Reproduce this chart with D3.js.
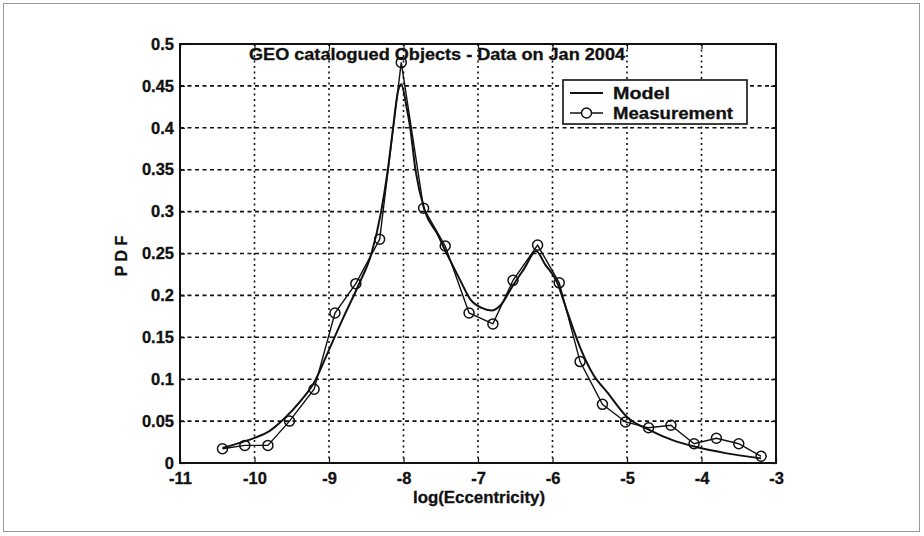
<!DOCTYPE html>
<html>
<head>
<meta charset="utf-8">
<script src="https://cdn.jsdelivr.net/npm/d3@7"></script>
<style>
  html, body { margin: 0; padding: 0; background: #fff; }
  svg { display: block; }
  text { font-family: "Liberation Sans", Arial, Helvetica, sans-serif; font-weight: bold; fill: #111; }
</style>
</head>
<body>
<svg id="chart" width="924" height="536"></svg>
<script>
// ---- Data ----
const titleText = "GEO catalogued Objects - Data on Jan 2004";
const xLabel = "log(Eccentricity)";
const yLabel = "P D F";
const seriesNames = ["Model", "Measurement"];

const xTicks = [-11, -10, -9, -8, -7, -6, -5, -4, -3];
const yTicks = [0, 0.05, 0.1, 0.15, 0.2, 0.25, 0.3, 0.35, 0.4, 0.45, 0.5];

// Measurement (circles)
const measX = [-10.43, -10.13, -9.82, -9.53, -9.20, -8.92, -8.64, -8.32, -8.03, -7.73,
               -7.44, -7.12, -6.80, -6.53, -6.20, -5.91, -5.63, -5.33, -5.02, -4.71,
               -4.41, -4.10, -3.80, -3.50, -3.20];
const measY = [0.017, 0.021, 0.021, 0.050, 0.088, 0.179, 0.214, 0.267, 0.478, 0.304,
               0.259, 0.179, 0.166, 0.218, 0.260, 0.215, 0.121, 0.070, 0.049, 0.042,
               0.045, 0.023, 0.0295, 0.023, 0.008];

// Model (smooth line)
const modelX = [-10.43, -10.2, -10.0, -9.8, -9.6, -9.4, -9.2, -9.0, -8.8, -8.6,
                -8.43, -8.3, -8.21, -8.14, -8.07, -8.03, -7.96, -7.91, -7.84, -7.71,
                -7.55, -7.42, -7.25, -7.1, -6.95, -6.82, -6.7, -6.53, -6.38, -6.22,
                -6.1, -5.94, -5.8, -5.63, -5.45, -5.27, -5.0, -4.69, -4.38, -4.07,
                -3.66, -3.2];
const modelY = [0.018, 0.024, 0.030, 0.038, 0.053, 0.072, 0.096, 0.135, 0.175, 0.213,
                0.250, 0.300, 0.350, 0.400, 0.445, 0.452, 0.425, 0.400, 0.350, 0.300,
                0.274, 0.250, 0.220, 0.195, 0.185, 0.182, 0.188, 0.212, 0.232, 0.253,
                0.237, 0.216, 0.180, 0.138, 0.105, 0.085, 0.055, 0.039, 0.027, 0.019,
                0.0115, 0.0055];

// ---- Drawing ----
const svg = d3.select("#chart");
const W = 924, H = 536;
const m = { left: 180, right: 924 - 776, top: 44, bottom: 536 - 463 };
const iw = W - m.left - m.right, ih = H - m.top - m.bottom;

// outer image frame
svg.append("rect").attr("x", 3.5).attr("y", 3.5).attr("width", 916).attr("height", 528)
  .attr("fill", "#fff").attr("stroke", "#9a9a9a").attr("stroke-width", 1);

const x = d3.scaleLinear().domain([-11, -3]).range([0, iw]);
const y = d3.scaleLinear().domain([0, 0.5]).range([ih, 0]);

const g = svg.append("g").attr("transform", `translate(${m.left},${m.top})`);

// grid
g.append("g").selectAll("line").data(xTicks.slice(1, -1)).join("line")
  .attr("x1", d => x(d)).attr("x2", d => x(d)).attr("y1", 0).attr("y2", ih)
  .attr("stroke", "#111").attr("stroke-width", 1.6).attr("stroke-dasharray", "2,3.5");
g.append("g").selectAll("line").data(yTicks.slice(1, -1)).join("line")
  .attr("y1", d => y(d)).attr("y2", d => y(d)).attr("x1", 0).attr("x2", iw)
  .attr("stroke", "#111").attr("stroke-width", 1.6).attr("stroke-dasharray", "4,3.5");

// axes
const fmtY = d => d === 0 ? "0" : String(+d.toFixed(2));
const xAxis = g.append("g").attr("transform", `translate(0,${ih})`)
  .call(d3.axisBottom(x).tickValues(xTicks).tickSize(-5).tickPadding(9).tickFormat(d => String(d)));
const yAxis = g.append("g")
  .call(d3.axisLeft(y).tickValues(yTicks).tickSize(-5).tickPadding(6).tickFormat(fmtY));
g.append("g").call(d3.axisTop(x).tickValues(xTicks).tickSize(-5).tickFormat(""));
g.append("g").attr("transform", `translate(${iw},0)`)
  .call(d3.axisRight(y).tickValues(yTicks).tickSize(-5).tickFormat(""));
g.selectAll(".domain").remove();
g.selectAll(".tick line").attr("stroke", "#111").attr("stroke-width", 1.2);
[xAxis, yAxis].forEach(a => a.selectAll("text")
  .style("font-family", '"Liberation Sans", Arial, sans-serif')
  .style("font-weight", "bold").style("font-size", "16.5px").attr("fill", "#111")
  .attr("stroke", "#111").attr("stroke-width", 0.3));

// plot frame
g.append("rect").attr("x", 0).attr("y", 0).attr("width", iw).attr("height", ih)
  .attr("fill", "none").attr("stroke", "#111").attr("stroke-width", 2);

// model line
const lineModel = d3.line().x(d => x(d[0])).y(d => y(d[1])).curve(d3.curveMonotoneX);
g.append("path").datum(modelX.map((v, i) => [v, modelY[i]]))
  .attr("d", lineModel).attr("fill", "none").attr("stroke", "#111").attr("stroke-width", 2);

// measurement line + circles
const lineMeas = d3.line().x(d => x(d[0])).y(d => y(d[1]));
const measData = measX.map((v, i) => [v, measY[i]]);
g.append("path").datum(measData)
  .attr("d", lineMeas).attr("fill", "none").attr("stroke", "#111").attr("stroke-width", 1.4);
g.append("g").selectAll("circle").data(measData).join("circle")
  .attr("cx", d => x(d[0])).attr("cy", d => y(d[1])).attr("r", 5)
  .attr("fill", "none").attr("stroke", "#111").attr("stroke-width", 1.5);

// title
g.append("text").attr("x", 437 - m.left).attr("y", 60 - m.top)
  .attr("text-anchor", "middle").style("font-size", "16px")
  .attr("textLength", 376).attr("lengthAdjust", "spacingAndGlyphs")
  .attr("stroke", "#111").attr("stroke-width", 0.3).text(titleText);

// axis labels
svg.append("text").attr("x", 479).attr("y", 503).attr("text-anchor", "middle")
  .style("font-size", "16px").attr("textLength", 132).attr("lengthAdjust", "spacingAndGlyphs")
  .attr("stroke", "#111").attr("stroke-width", 0.3).text(xLabel);
svg.append("text").attr("transform", "translate(127,256) rotate(-90)")
  .attr("text-anchor", "middle").style("font-size", "16px")
  .attr("stroke", "#111").attr("stroke-width", 0.3).text(yLabel);

// legend
const lg = svg.append("g").attr("transform", "translate(563,80)");
lg.append("rect").attr("width", 184).attr("height", 44)
  .attr("fill", "#fff").attr("stroke", "#111").attr("stroke-width", 1.6);
lg.append("line").attr("x1", 7).attr("x2", 40).attr("y1", 13).attr("y2", 13)
  .attr("stroke", "#111").attr("stroke-width", 2);
lg.append("line").attr("x1", 7).attr("x2", 40).attr("y1", 33).attr("y2", 33)
  .attr("stroke", "#111").attr("stroke-width", 1.4);
lg.append("circle").attr("cx", 23.5).attr("cy", 33).attr("r", 5)
  .attr("fill", "#fff").attr("stroke", "#111").attr("stroke-width", 1.5);
const legLen = [57, 120];
lg.selectAll("text.leg").data(seriesNames).join("text").attr("class", "leg")
  .attr("x", 50).attr("y", (d, i) => 13 + i * 20).attr("dy", "0.36em")
  .style("font-size", "17px")
  .attr("textLength", (d, i) => legLen[i]).attr("lengthAdjust", "spacingAndGlyphs")
  .attr("stroke", "#111").attr("stroke-width", 0.3).text(d => d);
</script>
</body>
</html>
